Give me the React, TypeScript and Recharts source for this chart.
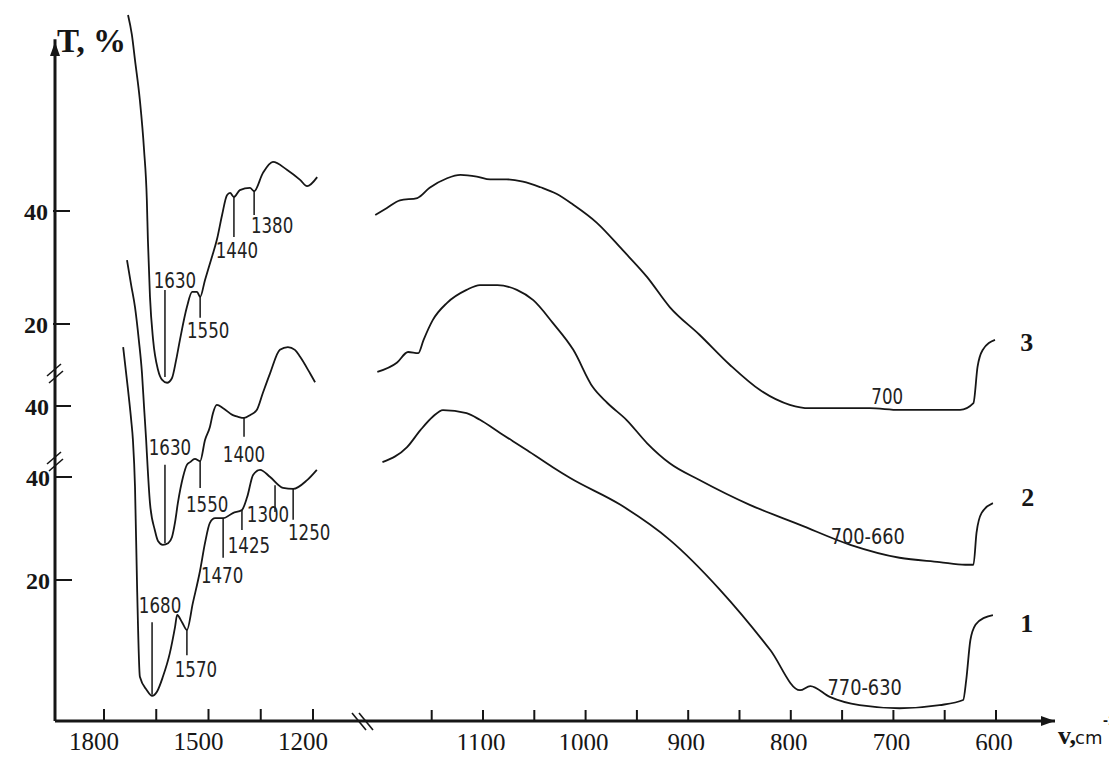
import React from "react";
import { LineChart, Line, XAxis, YAxis, ReferenceLine, ReferenceDot } from "recharts";

// IR spectra, [wavenumber cm-1, T %].
// The axis is broken: left panel 1800-1200, right panel 1200-600.
const curve3Left = [
  [1731, 74.7], [1720, 71.2], [1711, 66.7], [1697, 59.6], [1685, 50.8], [1677, 41.9],
  [1674, 34.9], [1668, 24.8], [1659, 17.2], [1645, 11.9], [1633, 10.1], [1619, 9.6],
  [1605, 10.4], [1593, 13.6], [1582, 17.2], [1562, 23.0], [1547, 25.7], [1533, 25.7],
  [1524, 24.8], [1510, 27.8], [1490, 31.9], [1476, 34.9], [1461, 39.3], [1447, 42.8],
  [1438, 43.2], [1427, 42.5], [1410, 43.7], [1381, 44.1], [1369, 43.5], [1344, 46.7],
  [1315, 48.7], [1275, 47.3], [1237, 45.5], [1217, 44.4], [1188, 46.0],
];
const curve3Right = [
  [1205, 39.3], [1194, 40.5], [1181, 41.9], [1164, 42.3], [1152, 44.1], [1135, 45.8],
  [1122, 46.4], [1106, 46.1], [1093, 45.6], [1077, 45.6], [1061, 45.2], [1044, 44.2],
  [1028, 43.0], [1012, 41.1], [989, 37.9], [964, 33.1], [940, 28.3], [918, 23.0],
  [889, 18.1], [859, 12.7], [830, 8.3], [801, 5.7], [782, 5.1], [723, 5.1], [694, 4.8],
  [635, 4.8], [622, 6.0], [618, 12.4], [613, 15.4], [601, 17.2],
];
const curve2Left = [
  [1734, 67.0], [1722, 62.4], [1711, 58.3], [1700, 52.2], [1691, 46.1], [1685, 39.8],
  [1679, 33.7], [1677, 31.3], [1668, 22.0], [1654, 17.0], [1645, 15.0], [1631, 14.3],
  [1616, 14.6], [1605, 15.7], [1596, 18.5], [1588, 22.0], [1573, 26.9], [1562, 29.1],
  [1553, 29.6], [1539, 30.2], [1524, 29.8], [1510, 33.7], [1496, 36.1], [1487, 38.7],
  [1476, 40.2], [1458, 39.6], [1430, 38.3], [1415, 38.0], [1398, 37.8], [1381, 38.3],
  [1361, 39.3], [1344, 42.4], [1323, 46.1], [1295, 50.4], [1272, 50.9], [1252, 50.4],
  [1237, 49.1], [1209, 46.1], [1194, 44.4],
];
const curve2Right = [
  [1203, 46.3], [1184, 48.0], [1173, 50.0], [1163, 49.8], [1158, 52.2], [1149, 55.9],
  [1135, 59.1], [1116, 61.5], [1103, 62.4], [1086, 62.4], [1067, 61.5], [1051, 59.6],
  [1032, 55.4], [1012, 50.4], [993, 43.5], [979, 40.6], [960, 37.4], [940, 33.1],
  [918, 29.4], [889, 26.3], [840, 21.7], [791, 18.0], [742, 14.3], [694, 11.9],
  [655, 11.1], [630, 10.6], [622, 10.6], [619, 16.5], [614, 20.2], [603, 22.0],
];
const curve1Left = [
  [1745, 65.2], [1731, 56.9], [1722, 51.1], [1717, 47.2], [1711, 38.1], [1705, 18.6],
  [1697, 1.2], [1677, -1.4], [1662, -2.5], [1648, -1.7], [1631, 1.2], [1611, 5.8],
  [1596, 10.9], [1590, 13.2], [1576, 11.8], [1562, 10.3], [1545, 15.5], [1524, 21.9],
  [1510, 27.2], [1496, 31.1], [1481, 32.0], [1458, 32.0], [1430, 33.0], [1404, 33.6],
  [1389, 36.1], [1372, 40.4], [1352, 41.4], [1323, 40.0], [1286, 37.9], [1257, 37.7],
  [1217, 39.4], [1189, 41.4],
];
const curve1Right = [
  [1198, 42.9], [1174, 45.8], [1161, 49.1], [1149, 51.7], [1139, 53.0], [1116, 52.4],
  [1103, 51.1], [1083, 48.5], [1057, 45.2], [1032, 41.9], [1015, 39.8], [966, 34.6],
  [918, 27.8], [869, 18.1], [820, 6.4], [791, -1.4], [781, -0.6], [762, -2.7],
  [733, -4.3], [694, -4.9], [655, -4.3], [632, -3.3], [629, 0.6], [625, 8.3],
  [620, 11.3], [611, 12.7], [603, 13.2],
];

const leftTicks = [1800, 1650, 1500, 1350, 1200];
const leftTickLabels = [1800, 1500, 1200];
const rightTicks = [1150, 1100, 1050, 1000, 950, 900, 850, 800, 750, 700, 650, 600];
const rightTickLabels = [1100, 1000, 900, 800, 700, 600];
const yTicks3 = [20, 40];
const yTicks2 = [40];
const yTicks1 = [20, 40];

// marked bands: label, x position of the marker, T where it starts and ends
const peaks = [
  { curve: "c3", text: "1630", at: 1625, top: 26.0, bottom: 10.6, side: "above" },
  { curve: "c3", text: "1550", at: 1524, top: 24.8, bottom: 21.1, side: "below" },
  { curve: "c3", text: "1440", at: 1427, top: 42.5, bottom: 35.4, side: "below" },
  { curve: "c3", text: "1380", at: 1369, top: 43.5, bottom: 39.3, side: "below" },
  { curve: "c2", text: "1630", at: 1625, top: 29.1, bottom: 14.6, side: "above" },
  { curve: "c2", text: "1550", at: 1524, top: 29.8, bottom: 24.8, side: "below" },
  { curve: "c2", text: "1400", at: 1398, top: 37.8, bottom: 34.3, side: "below" },
  { curve: "c1", text: "1680", at: 1662, top: 11.8, bottom: -2.3, side: "above" },
  { curve: "c1", text: "1570", at: 1562, top: 10.3, bottom: 5.4, side: "below" },
  { curve: "c1", text: "1470", at: 1458, top: 32.0, bottom: 24.3, side: "below" },
  { curve: "c1", text: "1425", at: 1404, top: 33.6, bottom: 29.7, side: "below" },
  { curve: "c1", text: "1300", at: 1309, top: 38.4, bottom: 33.2, side: "below" },
  { curve: "c1", text: "1250", at: 1257, top: 37.7, bottom: 31.7, side: "below" },
];
const bands = [
  { curve: "c3", text: "700", at: 706, t: 7.1 },
  { curve: "c2", text: "700-660", at: 725, t: 15.7 },
  { curve: "c1", text: "770-630", at: 728, t: -1.0 },
];
const curveNames = [
  { curve: "c3", text: "3", at: 570, t: 16.8 },
  { curve: "c2", text: "2", at: 569, t: 23.1 },
  { curve: "c1", text: "1", at: 570, t: 11.7 },
];

// small label nudges (px) so the numbers sit like in the original
const nudge: Record<string, [number, number]> = {
  "c3-1630": [4, 2], "c3-1550": [2, -2], "c3-1440": [-3, -1], "c3-1380": [12, -4],
  "c2-1630": [-1, -6], "c2-1550": [1, 2], "c2-1400": [-6, 3],
  "c1-1680": [2, -5], "c1-1570": [3, 0], "c1-1470": [-7, 3], "c1-1425": [1, 1],
  "c1-1300": [-13, -12], "c1-1250": [10, -2],
};

// ---- layout: the chart fills the whole 1117x758 page (wrapper cancels body margin) ----
const W = 1117;
const H = 758;
const PLOT = { left: 55, right: 1055, top: 12, bottom: 721 };
type Lin = { v1: number; p1: number; v2: number; p2: number };
const LEFT_X: Lin = { v1: 1800, p1: 104, v2: 1200, p2: 313 };
const RIGHT_X: Lin = { v1: 1100, p1: 483, v2: 600, p2: 996 };
const Y3: Lin = { v1: 40, p1: 211, v2: 20, p2: 324 };
const Y2: Lin = { v1: 40, p1: 406, v2: 20, p2: 514 };
const Y1: Lin = { v1: 40, p1: 477, v2: 20, p2: 580 };

const valueAt = (s: Lin, p: number) => s.v1 + ((p - s.p1) * (s.v2 - s.v1)) / (s.p2 - s.p1);
const domainOf = (s: Lin, a: number, b: number): [number, number] => {
  const u = valueAt(s, a);
  const v = valueAt(s, b);
  return [Math.min(u, v), Math.max(u, v)];
};
const lxDomain = domainOf(LEFT_X, PLOT.left, PLOT.right);
const rxDomain = domainOf(RIGHT_X, PLOT.left, PLOT.right);
const y3Domain = domainOf(Y3, PLOT.bottom, PLOT.top);
const y2Domain = domainOf(Y2, PLOT.bottom, PLOT.top);
const y1Domain = domainOf(Y1, PLOT.bottom, PLOT.top);

const INK = "#161616";
const SERIF = "'Liberation Serif', 'Times New Roman', serif";
const SANS = "'DejaVu Sans', 'Liberation Sans', sans-serif";

const pts = (arr: number[][]) => arr.map(([wn, t]) => ({ wn, t }));
const series = [
  { id: "3L", data: pts(curve3Left), x: "L", y: "c3" },
  { id: "3R", data: pts(curve3Right), x: "R", y: "c3" },
  { id: "2L", data: pts(curve2Left), x: "L", y: "c2" },
  { id: "2R", data: pts(curve2Right), x: "R", y: "c2" },
  { id: "1L", data: pts(curve1Left), x: "L", y: "c1" },
  { id: "1R", data: pts(curve1Right), x: "R", y: "c1" },
];

const XTick = (props: any) => {
  const { x, y, payload, labels, shift } = props;
  return (
    <g>
      <line x1={x} y1={y} x2={x} y2={y - 12} stroke={INK} strokeWidth={2} />
      {labels.includes(payload.value) && (
        <text x={x + shift} y={y + 29} textAnchor="middle" fontFamily={SERIF} fontSize={25} fill={INK}>
          {payload.value}
        </text>
      )}
    </g>
  );
};

const YTick = (props: any) => {
  const { x, y, payload } = props;
  return (
    <g>
      <line x1={x} y1={y} x2={x + 17} y2={y} stroke={INK} strokeWidth={2} />
      <text x={x - 5} y={y} dy="0.36em" textAnchor="end" fontFamily={SERIF} fontWeight="bold" fontSize={24} fill={INK}>
        {payload.value}
      </text>
    </g>
  );
};

const smallText = (x: number, y: number, text: string, anchor = "middle") => (
  <text
    x={x}
    y={y}
    textAnchor={anchor as any}
    fontFamily={SANS}
    fontSize={21}
    fill="#222"
    textLength={text.length * 10.6}
    lengthAdjust="spacingAndGlyphs"
  >
    {text}
  </text>
);

const axisProps = {
  type: "number" as const,
  allowDataOverflow: true,
  interval: 0 as const,
  tickSize: 0,
  tickMargin: 0,
  tickLine: false,
};

export default function App() {
  const yTip = valueAt(Y3, 42);
  const yBreakA = valueAt(Y2, 372);
  const yBreakB = valueAt(Y1, 460);
  const xBreak = valueAt(RIGHT_X, 362);

  // each axis takes 1px (a zero-sized axis is not drawn), so margins lose them
  return (
    <div style={{ margin: -8 }}>
      <LineChart
        width={W}
        height={H}
        margin={{ top: PLOT.top, right: W - PLOT.right, bottom: H - PLOT.bottom - 2, left: PLOT.left - 3 }}
      >
        <XAxis
          {...axisProps}
          xAxisId="L"
          dataKey="wn"
          domain={lxDomain}
          reversed
          ticks={leftTicks}
          height={1}
          axisLine={{ stroke: INK, strokeWidth: 3 }}
          tick={<XTick labels={leftTickLabels} shift={-10} />}
        />
        <XAxis
          {...axisProps}
          xAxisId="R"
          dataKey="wn"
          domain={rxDomain}
          reversed
          ticks={rightTicks}
          height={1}
          axisLine={false}
          tick={<XTick labels={rightTickLabels} shift={-2} />}
        />
        <YAxis {...axisProps} yAxisId="c3" domain={y3Domain} ticks={yTicks3} width={1} axisLine={false} tick={<YTick />} />
        <YAxis {...axisProps} yAxisId="c2" domain={y2Domain} ticks={yTicks2} width={1} axisLine={false} tick={<YTick />} />
        <YAxis {...axisProps} yAxisId="c1" domain={y1Domain} ticks={yTicks1} width={1} axisLine={false} tick={<YTick />} />

        {/* vertical axis with arrow and title */}
        <ReferenceLine
          xAxisId="L"
          yAxisId="c3"
          segment={[{ x: lxDomain[1], y: y3Domain[0] }, { x: lxDomain[1], y: yTip + 0.5 }]}
          stroke={INK}
          strokeWidth={3}
          ifOverflow="visible"
        />
        <ReferenceDot
          xAxisId="L"
          yAxisId="c3"
          x={lxDomain[1]}
          y={yTip}
          ifOverflow="visible"
          shape={(p: any) => (
            <g>
              <polygon points={`${p.cx},${p.cy} ${p.cx - 5},${p.cy + 14} ${p.cx + 5},${p.cy + 14}`} fill={INK} />
              <text x={p.cx + 2} y={p.cy + 10} fontFamily={SERIF} fontWeight="bold" fontSize={33} fill={INK}>
                T, %
              </text>
            </g>
          )}
        />
        {/* horizontal arrow and unit */}
        <ReferenceDot
          xAxisId="R"
          yAxisId="c1"
          x={rxDomain[0]}
          y={y1Domain[0]}
          ifOverflow="visible"
          shape={(p: any) => (
            <g>
              <polygon points={`${p.cx},${p.cy} ${p.cx - 14},${p.cy - 5} ${p.cx - 14},${p.cy + 5}`} fill={INK} />
              <text x={p.cx + 3} y={p.cy + 23} fontFamily={SERIF} fontWeight="bold" fontSize={26} fill={INK}>
                v,
              </text>
              <text x={p.cx + 20} y={p.cy + 23} fontFamily={SANS} fontSize={18} fill={INK}>
                cm
              </text>
              <text x={p.cx + 48} y={p.cy + 4} fontFamily="'Liberation Sans', sans-serif" fontWeight="bold" fontSize={15} fill={INK}>
                -1
              </text>
            </g>
          )}
        />
        {/* axis breaks */}
        {[
          { y: yBreakA, id: "c2" },
          { y: yBreakB, id: "c1" },
        ].map((b) => (
          <ReferenceDot
            key={b.id}
            xAxisId="L"
            yAxisId={b.id}
            x={lxDomain[1]}
            y={b.y}
            ifOverflow="visible"
            shape={(p: any) => (
              <g stroke={INK} strokeWidth={1.6}>
                <line x1={p.cx - 8} y1={p.cy + 4} x2={p.cx + 6} y2={p.cy - 8} />
                <line x1={p.cx - 6} y1={p.cy + 11} x2={p.cx + 8} y2={p.cy - 1} />
              </g>
            )}
          />
        ))}
        <ReferenceDot
          xAxisId="R"
          yAxisId="c1"
          x={xBreak}
          y={y1Domain[0]}
          ifOverflow="visible"
          shape={(p: any) => (
            <g stroke={INK} strokeWidth={1.6}>
              <line x1={p.cx - 10} y1={p.cy - 8} x2={p.cx + 4} y2={p.cy + 9} />
              <line x1={p.cx - 3} y1={p.cy - 8} x2={p.cx + 11} y2={p.cy + 9} />
            </g>
          )}
        />

        {series.map((s) => (
          <Line
            key={s.id}
            data={s.data}
            xAxisId={s.x}
            yAxisId={s.y}
            dataKey="t"
            type="monotone"
            stroke={INK}
            strokeWidth={1.8}
            dot={false}
            activeDot={false}
            isAnimationActive={false}
          />
        ))}

        {peaks.map((pk) => {
          const key = `${pk.curve}-${pk.text}`;
          const [dx, dy] = nudge[key] || [0, 0];
          const above = pk.side === "above";
          return (
            <React.Fragment key={key}>
              <ReferenceLine
                xAxisId="L"
                yAxisId={pk.curve}
                segment={[{ x: pk.at, y: pk.top }, { x: pk.at, y: pk.bottom }]}
                stroke={INK}
                strokeWidth={1.5}
                ifOverflow="visible"
              />
              <ReferenceDot
                xAxisId="L"
                yAxisId={pk.curve}
                x={pk.at}
                y={above ? pk.top : pk.bottom}
                ifOverflow="visible"
                shape={(p: any) => smallText(p.cx + 6 + dx, p.cy + (above ? -4 : 22) + dy, pk.text)}
              />
            </React.Fragment>
          );
        })}

        {bands.map((b) => (
          <ReferenceDot
            key={b.text}
            xAxisId="R"
            yAxisId={b.curve}
            x={b.at}
            y={b.t}
            ifOverflow="visible"
            shape={(p: any) => smallText(p.cx, p.cy + 7, b.text)}
          />
        ))}

        {curveNames.map((c) => (
          <ReferenceDot
            key={c.text}
            xAxisId="R"
            yAxisId={c.curve}
            x={c.at}
            y={c.t}
            ifOverflow="visible"
            shape={(p: any) => (
              <text x={p.cx} y={p.cy} dy="0.35em" textAnchor="middle" fontFamily={SERIF} fontWeight="bold" fontSize={26} fill={INK}>
                {c.text}
              </text>
            )}
          />
        ))}
      </LineChart>
    </div>
  );
}
